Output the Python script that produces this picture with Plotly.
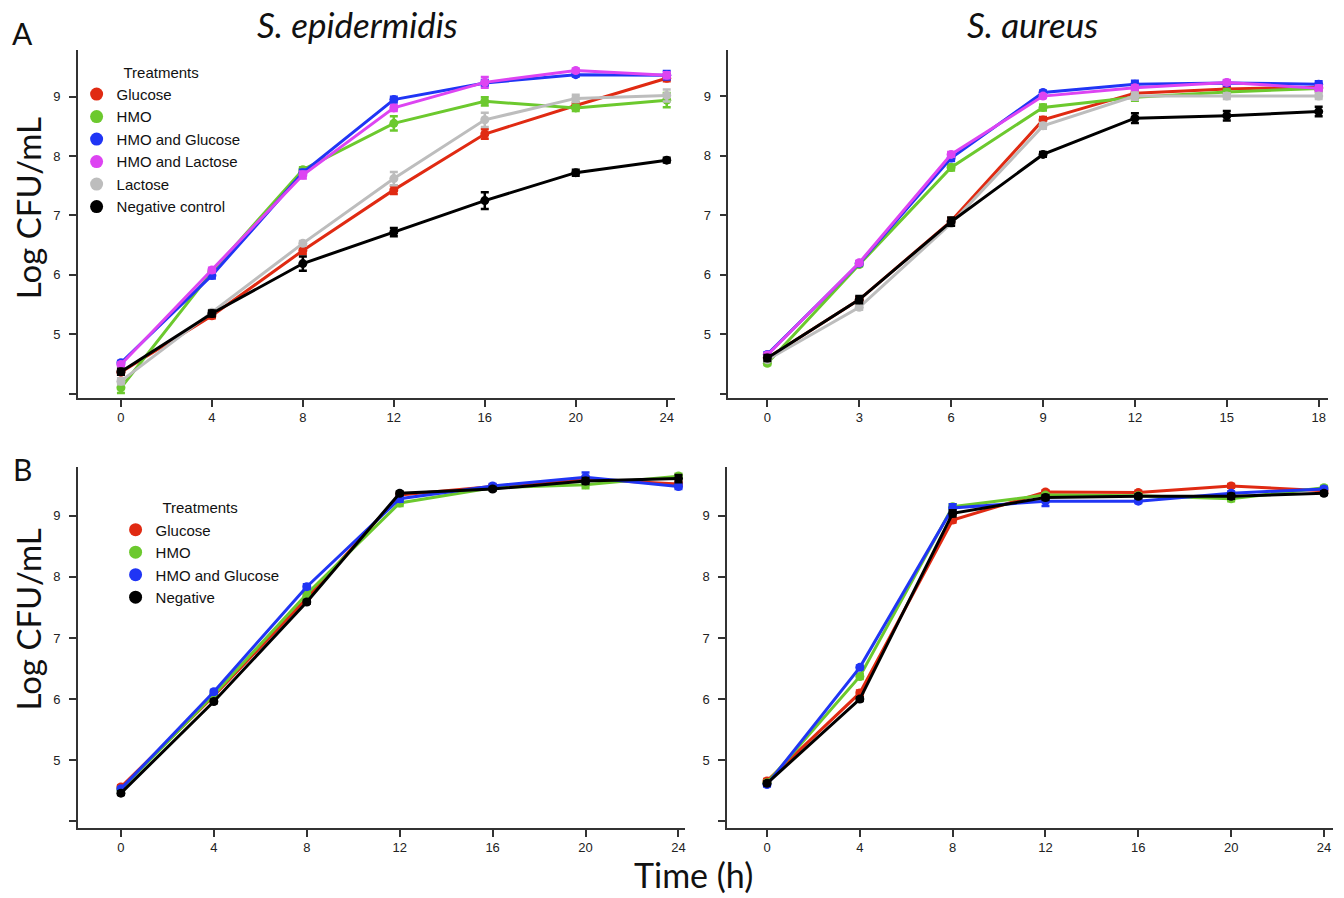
import plotly.graph_objects as go

# ---------------- data ----------------
time_epi_a = [0, 4, 8, 12, 16, 20, 24]
time_aur_a = [0, 3, 6, 9, 12, 15, 18]
time_b = [0, 4, 8, 12, 16, 20, 24]

treatments_a = ["Glucose", "HMO", "HMO and Glucose", "HMO and Lactose", "Lactose", "Negative control"]
treatments_b = ["Glucose", "HMO", "HMO and Glucose", "Negative"]

# Panel A, S. epidermidis
epi_a_glucose = [4.36, 5.31, 6.41, 7.43, 8.37, 8.85, 9.31]
epi_a_hmo = [4.10, 6.05, 7.77, 8.55, 8.92, 8.81, 8.94]
epi_a_hmo_glucose = [4.52, 5.99, 7.72, 8.95, 9.23, 9.37, 9.36]
epi_a_hmo_lactose = [4.49, 6.08, 7.68, 8.81, 9.24, 9.44, 9.36]
epi_a_lactose = [4.21, 5.37, 6.53, 7.62, 8.61, 8.97, 9.02]
epi_a_negative = [4.37, 5.35, 6.19, 6.72, 7.25, 7.72, 7.93]
epi_a_glucose_err = [0.04, 0.04, 0.06, 0.07, 0.08, 0.05, 0.05]
epi_a_hmo_err = [0.09, 0.04, 0.04, 0.12, 0.07, 0.05, 0.12]
epi_a_hmo_glucose_err = [0.03, 0.05, 0.05, 0.05, 0.05, 0.03, 0.07]
epi_a_hmo_lactose_err = [0.03, 0.04, 0.06, 0.05, 0.09, 0.03, 0.05]
epi_a_lactose_err = [0.05, 0.04, 0.04, 0.11, 0.12, 0.06, 0.10]
epi_a_negative_err = [0.05, 0.05, 0.12, 0.07, 0.14, 0.05, 0.04]

# Panel A, S. aureus
aur_a_glucose = [4.60, 5.58, 6.90, 8.60, 9.05, 9.12, 9.15]
aur_a_hmo = [4.51, 6.17, 7.80, 8.81, 8.98, 9.07, 9.13]
aur_a_hmo_glucose = [4.66, 6.19, 7.96, 9.06, 9.20, 9.22, 9.20]
aur_a_hmo_lactose = [4.65, 6.20, 8.02, 9.00, 9.14, 9.23, 9.13]
aur_a_lactose = [4.57, 5.45, 6.86, 8.50, 9.00, 9.00, 9.00]
aur_a_negative = [4.60, 5.58, 6.89, 8.02, 8.63, 8.67, 8.74]
aur_a_glucose_err = [0.03, 0.04, 0.05, 0.05, 0.05, 0.04, 0.04]
aur_a_hmo_err = [0.03, 0.03, 0.05, 0.05, 0.06, 0.04, 0.05]
aur_a_hmo_glucose_err = [0.03, 0.03, 0.05, 0.03, 0.06, 0.04, 0.05]
aur_a_hmo_lactose_err = [0.03, 0.03, 0.04, 0.03, 0.04, 0.04, 0.05]
aur_a_lactose_err = [0.03, 0.04, 0.04, 0.05, 0.06, 0.05, 0.05]
aur_a_negative_err = [0.05, 0.06, 0.07, 0.04, 0.08, 0.08, 0.08]

# Panel B, S. epidermidis
epi_b_glucose = [4.56, 6.05, 7.65, 9.34, 9.48, 9.60, 9.52]
epi_b_hmo = [4.52, 6.07, 7.72, 9.21, 9.46, 9.51, 9.65]
epi_b_hmo_glucose = [4.53, 6.12, 7.84, 9.28, 9.49, 9.63, 9.48]
epi_b_negative = [4.46, 5.96, 7.59, 9.37, 9.44, 9.57, 9.61]
epi_b_glucose_err = [0.03, 0.03, 0.04, 0.03, 0.03, 0.04, 0.04]
epi_b_hmo_err = [0.03, 0.03, 0.05, 0.05, 0.03, 0.06, 0.04]
epi_b_hmo_glucose_err = [0.03, 0.03, 0.04, 0.05, 0.03, 0.08, 0.04]
epi_b_negative_err = [0.03, 0.03, 0.03, 0.03, 0.03, 0.05, 0.06]

# Panel B, S. aureus
aur_b_glucose = [4.66, 6.10, 8.93, 9.39, 9.38, 9.49, 9.41]
aur_b_hmo = [4.63, 6.37, 9.15, 9.34, 9.33, 9.28, 9.46]
aur_b_hmo_glucose = [4.60, 6.52, 9.13, 9.24, 9.24, 9.37, 9.44]
aur_b_negative = [4.62, 6.00, 9.04, 9.30, 9.32, 9.32, 9.37]
aur_b_glucose_err = [0.03, 0.04, 0.04, 0.03, 0.03, 0.03, 0.03]
aur_b_hmo_err = [0.03, 0.04, 0.04, 0.03, 0.03, 0.04, 0.03]
aur_b_hmo_glucose_err = [0.03, 0.03, 0.06, 0.08, 0.03, 0.03, 0.03]
aur_b_negative_err = [0.03, 0.03, 0.05, 0.04, 0.03, 0.04, 0.03]

y_tickvals = [4, 5, 6, 7, 8, 9]
y_ticktext = ["", "5", "6", "7", "8", "9"]

# ---------------- styles ----------------
colors_a = ["#e02a12", "#6cc92e", "#2035f5", "#dd44f2", "#bdbdbd", "#000000"]
colors_b = ["#e02a12", "#6cc92e", "#2035f5", "#000000"]

fig = go.Figure()


def add_panel(xs, series, errs, colors, xa, ya):
    for vals, err, col in zip(series, errs, colors):
        fig.add_trace(go.Scatter(
            x=xs, y=vals, mode="lines+markers",
            line=dict(color=col, width=3),
            marker=dict(color=col, size=9),
            error_y=dict(type="data", array=err, visible=True, color=col,
                         thickness=2.5, width=4),
            xaxis=xa, yaxis=ya, showlegend=False, hoverinfo="x+y",
        ))


add_panel(time_epi_a,
          [epi_a_glucose, epi_a_hmo, epi_a_hmo_glucose, epi_a_hmo_lactose, epi_a_lactose, epi_a_negative],
          [epi_a_glucose_err, epi_a_hmo_err, epi_a_hmo_glucose_err, epi_a_hmo_lactose_err, epi_a_lactose_err, epi_a_negative_err],
          colors_a, "x", "y")
add_panel(time_aur_a,
          [aur_a_glucose, aur_a_hmo, aur_a_hmo_glucose, aur_a_hmo_lactose, aur_a_lactose, aur_a_negative],
          [aur_a_glucose_err, aur_a_hmo_err, aur_a_hmo_glucose_err, aur_a_hmo_lactose_err, aur_a_lactose_err, aur_a_negative_err],
          colors_a, "x2", "y2")
add_panel(time_b,
          [epi_b_glucose, epi_b_hmo, epi_b_hmo_glucose, epi_b_negative],
          [epi_b_glucose_err, epi_b_hmo_err, epi_b_hmo_glucose_err, epi_b_negative_err],
          colors_b, "x3", "y3")
add_panel(time_b,
          [aur_b_glucose, aur_b_hmo, aur_b_hmo_glucose, aur_b_negative],
          [aur_b_glucose_err, aur_b_hmo_err, aur_b_hmo_glucose_err, aur_b_negative_err],
          colors_b, "x4", "y4")

# legend-only marker entries
for name, col in zip(treatments_a, colors_a):
    fig.add_trace(go.Scatter(x=[None], y=[None], mode="markers", name=name,
                             marker=dict(color=col, size=13), xaxis="x", yaxis="y",
                             legend="legend", showlegend=True))
for name, col in zip(treatments_b, colors_b):
    fig.add_trace(go.Scatter(x=[None], y=[None], mode="markers", name=name,
                             marker=dict(color=col, size=13), xaxis="x3", yaxis="y3",
                             legend="legend2", showlegend=True))

tickfont = dict(family="Liberation Sans Narrow, Liberation Sans, Arial", size=13, color="#222")
axis_common = dict(showline=True, linecolor="#333", linewidth=1.5, ticks="outside",
                   ticklen=7, tickwidth=1.5, tickcolor="#333", showgrid=False,
                   zeroline=False, tickfont=tickfont, mirror=False)


def xax(domain, rng, vals, anchor):
    return dict(axis_common, domain=domain, range=rng, tickvals=vals,
                ticktext=[str(v) for v in vals], anchor=anchor)


def yax(domain, rng, anchor):
    return dict(axis_common, domain=domain, range=rng, tickvals=y_tickvals,
                ticktext=y_ticktext, anchor=anchor, ticklabelstandoff=6)


legend_font = dict(family="Liberation Sans, Arial", size=15, color="#111")

fig.update_layout(
    width=1344, height=898,
    margin=dict(l=0, r=0, t=0, b=0),
    paper_bgcolor="white", plot_bgcolor="white",
    xaxis=xax([0.058, 0.502], [-1.89, 24.35], time_epi_a, "y"),
    yaxis=yax([0.557, 0.944], [3.93, 9.78], "x"),
    xaxis2=xax([0.542, 0.988], [-1.27, 18.3], time_aur_a, "y2"),
    yaxis2=yax([0.557, 0.944], [3.93, 9.77], "x2"),
    xaxis3=xax([0.058, 0.51], [-1.85, 24.3], time_b, "y3"),
    yaxis3=yax([0.078, 0.48], [3.89, 9.8], "x3"),
    xaxis4=xax([0.541, 0.992], [-1.72, 24.4], time_b, "y4"),
    yaxis4=yax([0.078, 0.48], [3.89, 9.8], "x4"),
    legend=dict(x=0.057, y=0.935, xanchor="left", yanchor="top", bgcolor="rgba(0,0,0,0)",
                font=legend_font, itemwidth=30,
                title=dict(text="Treatments", side="top center", font=legend_font)),
    legend2=dict(x=0.086, y=0.450, xanchor="left", yanchor="top", bgcolor="rgba(0,0,0,0)",
                 font=legend_font, itemwidth=30,
                 title=dict(text="Treatments", side="top center", font=legend_font)),
    showlegend=True,
)

big = dict(family="Lato, Open Sans, Liberation Sans", size=34, color="#111")
anns = [
    dict(text="<i>S. epidermidis</i>", x=0.266, y=0.973, size=35),
    dict(text="<i>S. aureus</i>", x=0.768, y=0.973, size=35),
    dict(text="A", x=0.0164, y=0.963, size=30),
    dict(text="B", x=0.0164, y=0.478, size=30),
    dict(text="Time (h)", x=0.516, y=0.026, size=34),
]
for a in anns:
    sz = a.pop("size")
    fig.add_annotation(xref="paper", yref="paper", showarrow=False,
                       xanchor="center", yanchor="middle", font=dict(big, size=sz), **a)
for yy in [0.768, 0.31]:
    fig.add_annotation(text="Log CFU/mL", xref="paper", yref="paper", x=0.0208, y=yy,
                       showarrow=False, textangle=-90, xanchor="center", yanchor="middle",
                       font=dict(big, size=33))

fig.write_html("out.html", config={"displayModeBar": False},
               post_script="document.body.style.margin='0px';document.body.style.overflow='hidden';")
